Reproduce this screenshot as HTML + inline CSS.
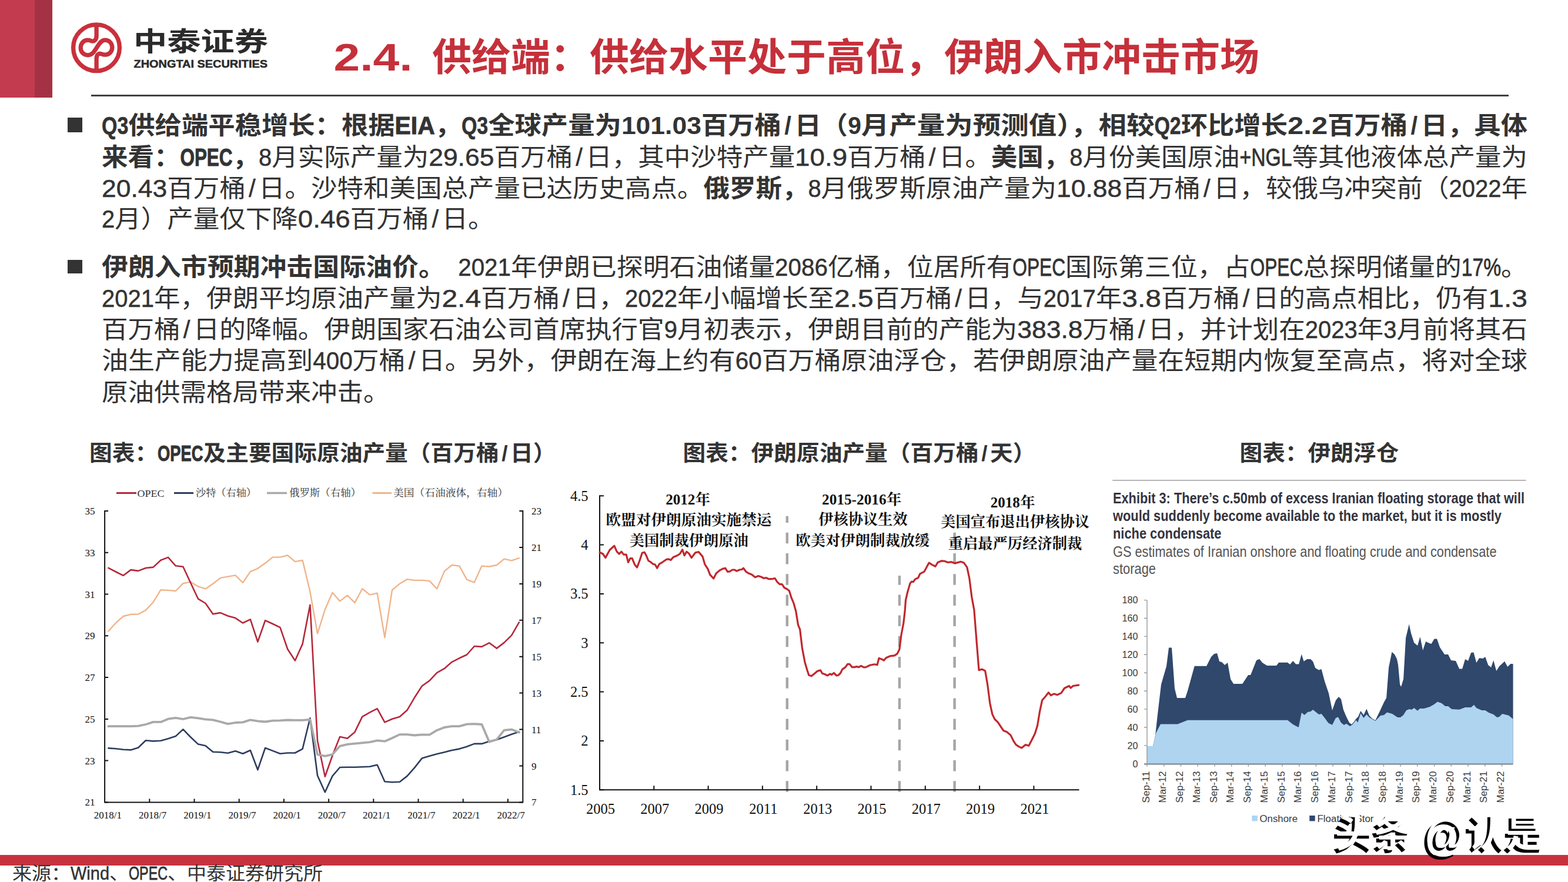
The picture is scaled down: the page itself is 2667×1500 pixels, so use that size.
<!DOCTYPE html>
<html lang="zh-CN"><head><meta charset="utf-8"><title>2.4 供给端</title>
<style>html,body{margin:0;padding:0;background:#fff}body{width:2667px;height:1500px;overflow:hidden;font-family:'Liberation Sans','Noto Sans CJK SC',sans-serif}#page{position:relative;width:2667px;height:1500px;background:#fff;overflow:hidden}#page>svg{position:absolute;left:0;top:0}.band{position:absolute}</style></head><body><div id="page">
<div class="band" style="left:0;top:0;width:60px;height:166px;background:#c23b4e"></div>
<div class="band" style="left:59px;top:0;width:30px;height:166px;background:#a33344"></div>
<div class="band" style="left:155px;top:160.5px;width:2411px;height:3.5px;background:#404040"></div>
<div class="band" style="left:0;top:1454px;width:2667px;height:17.5px;background:#c8323f"></div>
<div class="band" style="left:115px;top:200.3px;width:24.8px;height:24.5px;background:#333"></div>
<div class="band" style="left:115px;top:441.6px;width:25px;height:23.8px;background:#333"></div>
<svg width="2667" height="1500" viewBox="0 0 2667 1500">
<g fill="none" stroke="#c9303c" stroke-width="7.3" stroke-linecap="butt" stroke-linejoin="round">
<circle cx="164" cy="81.2" r="39.4"/>
<path d="M164.1,42 L164.1,61 C164.1,68 160,71 156,69.8 C153,68.8 152,68.1 149.5,68.1 C142,68.1 137.2,74 137.2,81.4 C137.2,89 143,93.8 149.5,93.8 C157,93.8 160.5,87 164.5,81 C168.5,75 172,68.1 178.8,68.1 C186,68.1 190.8,74 190.8,80.7 C190.8,88 185.5,93.1 178.8,93.1 C175,93.1 174,92.2 171.5,91.5 C167.5,90.5 164.1,93 164.1,100 L164.1,121"/>
</g>
<text x="227.0" y="86.5" font-size="45.50" fill="#2b2b2b" font-family="'Liberation Sans','Noto Sans CJK SC',sans-serif" font-weight="bold" textLength="229.0" lengthAdjust="spacingAndGlyphs">中泰证券</text>
<text x="227.5" y="115.0" font-size="18.20" fill="#2b2b2b" font-family="'Liberation Sans',sans-serif" font-weight="bold" textLength="227.5" lengthAdjust="spacingAndGlyphs" stroke="#2b2b2b" stroke-width="0.5">ZHONGTAI SECURITIES</text>
<text y="119.6" font-size="64.79" fill="#c5303a" font-family="'Liberation Sans','Noto Sans CJK SC',sans-serif" font-weight="bold"><tspan x="567.5" textLength="134.0" lengthAdjust="spacingAndGlyphs">2.4.</tspan><tspan x="735.0" textLength="1407.0" lengthAdjust="spacingAndGlyphs">供给端：供给水平处于高位，伊朗入市冲击市场</tspan></text>
<text y="228.1" font-size="42.01" fill="#333" font-family="'Liberation Sans','Noto Sans CJK SC',sans-serif" font-weight="bold"><tspan x="173.0" textLength="45.3" lengthAdjust="spacingAndGlyphs" stroke="#333" stroke-width="0.60">Q3</tspan><tspan x="218.3" textLength="453.3" lengthAdjust="spacingAndGlyphs">供给端平稳增长：根据</tspan><tspan x="671.6" textLength="68.0" lengthAdjust="spacingAndGlyphs" stroke="#333" stroke-width="1.00">EIA</tspan><tspan x="739.6" textLength="45.3" lengthAdjust="spacingAndGlyphs">，</tspan><tspan x="784.9" textLength="45.3" lengthAdjust="spacingAndGlyphs" stroke="#333" stroke-width="0.60">Q3</tspan><tspan x="830.2" textLength="226.6" lengthAdjust="spacingAndGlyphs">全球产量为</tspan><tspan x="1056.9" textLength="136.0" lengthAdjust="spacingAndGlyphs">101.03</tspan><tspan x="1192.9" textLength="136.0" lengthAdjust="spacingAndGlyphs">百万桶</tspan><tspan x="1340.2" text-anchor="middle">/</tspan><tspan x="1351.5" textLength="90.7" lengthAdjust="spacingAndGlyphs">日（</tspan><tspan x="1442.2" textLength="22.7" lengthAdjust="spacingAndGlyphs">9</tspan><tspan x="1464.8" textLength="498.6" lengthAdjust="spacingAndGlyphs">月产量为预测值），相较</tspan><tspan x="1963.4" textLength="45.3" lengthAdjust="spacingAndGlyphs" stroke="#333" stroke-width="0.60">Q2</tspan><tspan x="2008.7" textLength="181.3" lengthAdjust="spacingAndGlyphs">环比增长</tspan><tspan x="2190.1" textLength="68.0" lengthAdjust="spacingAndGlyphs">2.2</tspan><tspan x="2258.0" textLength="136.0" lengthAdjust="spacingAndGlyphs">百万桶</tspan><tspan x="2405.4" text-anchor="middle">/</tspan><tspan x="2416.7" textLength="181.3" lengthAdjust="spacingAndGlyphs">日，具体</tspan></text>
<text y="281.6" font-size="42.01" fill="#333" font-family="'Liberation Sans','Noto Sans CJK SC',sans-serif"><tspan x="173.0" textLength="133.5" lengthAdjust="spacingAndGlyphs" font-weight="bold">来看：</tspan><tspan x="306.5" textLength="89.0" lengthAdjust="spacingAndGlyphs" font-weight="bold" stroke="#333" stroke-width="1.00">OPEC</tspan><tspan x="395.5" textLength="44.5" lengthAdjust="spacingAndGlyphs" font-weight="bold">，</tspan><tspan x="440.0" textLength="22.2" lengthAdjust="spacingAndGlyphs" stroke="#333" stroke-width="0.50">8</tspan><tspan x="462.2" textLength="267.0" lengthAdjust="spacingAndGlyphs">月实际产量为</tspan><tspan x="729.2" textLength="111.2" lengthAdjust="spacingAndGlyphs" stroke="#333" stroke-width="0.50">29.65</tspan><tspan x="840.4" textLength="133.5" lengthAdjust="spacingAndGlyphs">百万桶</tspan><tspan x="985.0" text-anchor="middle" stroke="#333" stroke-width="0.50">/</tspan><tspan x="996.2" textLength="356.0" lengthAdjust="spacingAndGlyphs">日，其中沙特产量</tspan><tspan x="1352.1" textLength="89.0" lengthAdjust="spacingAndGlyphs" stroke="#333" stroke-width="0.50">10.9</tspan><tspan x="1441.1" textLength="133.5" lengthAdjust="spacingAndGlyphs">百万桶</tspan><tspan x="1585.7" text-anchor="middle" stroke="#333" stroke-width="0.50">/</tspan><tspan x="1596.9" textLength="89.0" lengthAdjust="spacingAndGlyphs">日。</tspan><tspan x="1685.8" textLength="133.5" lengthAdjust="spacingAndGlyphs" font-weight="bold">美国，</tspan><tspan x="1819.3" textLength="22.2" lengthAdjust="spacingAndGlyphs" stroke="#333" stroke-width="0.50">8</tspan><tspan x="1841.6" textLength="267.0" lengthAdjust="spacingAndGlyphs">月份美国原油</tspan><tspan x="2108.6" textLength="89.0" lengthAdjust="spacingAndGlyphs" stroke="#333" stroke-width="0.80">+NGL</tspan><tspan x="2197.5" textLength="400.5" lengthAdjust="spacingAndGlyphs">等其他液体总产量为</tspan></text>
<text y="334.5" font-size="42.01" fill="#333" font-family="'Liberation Sans','Noto Sans CJK SC',sans-serif"><tspan x="173.0" textLength="111.2" lengthAdjust="spacingAndGlyphs" stroke="#333" stroke-width="0.50">20.43</tspan><tspan x="284.2" textLength="133.5" lengthAdjust="spacingAndGlyphs">百万桶</tspan><tspan x="428.8" text-anchor="middle" stroke="#333" stroke-width="0.50">/</tspan><tspan x="440.0" textLength="756.4" lengthAdjust="spacingAndGlyphs">日。沙特和美国总产量已达历史高点。</tspan><tspan x="1196.4" textLength="178.0" lengthAdjust="spacingAndGlyphs" font-weight="bold">俄罗斯，</tspan><tspan x="1374.4" textLength="22.2" lengthAdjust="spacingAndGlyphs" stroke="#333" stroke-width="0.50">8</tspan><tspan x="1396.6" textLength="400.5" lengthAdjust="spacingAndGlyphs">月俄罗斯原油产量为</tspan><tspan x="1797.1" textLength="111.2" lengthAdjust="spacingAndGlyphs" stroke="#333" stroke-width="0.50">10.88</tspan><tspan x="1908.3" textLength="133.5" lengthAdjust="spacingAndGlyphs">百万桶</tspan><tspan x="2052.9" text-anchor="middle" stroke="#333" stroke-width="0.50">/</tspan><tspan x="2064.1" textLength="400.5" lengthAdjust="spacingAndGlyphs">日，较俄乌冲突前（</tspan><tspan x="2464.5" textLength="89.0" lengthAdjust="spacingAndGlyphs" stroke="#333" stroke-width="0.50">2022</tspan><tspan x="2553.5" textLength="44.5" lengthAdjust="spacingAndGlyphs">年</tspan></text>
<text y="387.3" font-size="42.01" fill="#333" font-family="'Liberation Sans','Noto Sans CJK SC',sans-serif"><tspan x="173.0" textLength="22.2" lengthAdjust="spacingAndGlyphs" stroke="#333" stroke-width="0.50">2</tspan><tspan x="195.2" textLength="311.5" lengthAdjust="spacingAndGlyphs">月）产量仅下降</tspan><tspan x="506.8" textLength="89.0" lengthAdjust="spacingAndGlyphs" stroke="#333" stroke-width="0.50">0.46</tspan><tspan x="595.8" textLength="133.5" lengthAdjust="spacingAndGlyphs">百万桶</tspan><tspan x="740.4" text-anchor="middle" stroke="#333" stroke-width="0.50">/</tspan><tspan x="751.5" textLength="89.0" lengthAdjust="spacingAndGlyphs">日。</tspan></text>
<text y="468.5" font-size="42.01" fill="#333" font-family="'Liberation Sans','Noto Sans CJK SC',sans-serif"><tspan x="173.0" textLength="583.8" lengthAdjust="spacingAndGlyphs" font-weight="bold">伊朗入市预期冲击国际油价。</tspan><tspan x="779.2" textLength="89.8" lengthAdjust="spacingAndGlyphs" stroke="#333" stroke-width="0.50">2021</tspan><tspan x="869.1" textLength="449.1" lengthAdjust="spacingAndGlyphs">年伊朗已探明石油储量</tspan><tspan x="1318.1" textLength="89.8" lengthAdjust="spacingAndGlyphs" stroke="#333" stroke-width="0.50">2086</tspan><tspan x="1408.0" textLength="314.4" lengthAdjust="spacingAndGlyphs">亿桶，位居所有</tspan><tspan x="1722.3" textLength="89.8" lengthAdjust="spacingAndGlyphs" stroke="#333" stroke-width="0.80">OPEC</tspan><tspan x="1812.1" textLength="314.4" lengthAdjust="spacingAndGlyphs">国际第三位，占</tspan><tspan x="2126.5" textLength="89.8" lengthAdjust="spacingAndGlyphs" stroke="#333" stroke-width="0.80">OPEC</tspan><tspan x="2216.3" textLength="269.4" lengthAdjust="spacingAndGlyphs">总探明储量的</tspan><tspan x="2485.7" textLength="67.4" lengthAdjust="spacingAndGlyphs" stroke="#333" stroke-width="0.80">17%</tspan><tspan x="2553.1" textLength="44.9" lengthAdjust="spacingAndGlyphs">。</tspan></text>
<text y="521.8" font-size="42.01" fill="#333" font-family="'Liberation Sans','Noto Sans CJK SC',sans-serif"><tspan x="173.0" textLength="89.0" lengthAdjust="spacingAndGlyphs" stroke="#333" stroke-width="0.50">2021</tspan><tspan x="262.0" textLength="489.4" lengthAdjust="spacingAndGlyphs">年，伊朗平均原油产量为</tspan><tspan x="751.4" textLength="66.7" lengthAdjust="spacingAndGlyphs" stroke="#333" stroke-width="0.50">2.4</tspan><tspan x="818.2" textLength="133.5" lengthAdjust="spacingAndGlyphs">百万桶</tspan><tspan x="962.8" text-anchor="middle" stroke="#333" stroke-width="0.50">/</tspan><tspan x="973.9" textLength="89.0" lengthAdjust="spacingAndGlyphs">日，</tspan><tspan x="1062.9" textLength="89.0" lengthAdjust="spacingAndGlyphs" stroke="#333" stroke-width="0.50">2022</tspan><tspan x="1151.9" textLength="267.0" lengthAdjust="spacingAndGlyphs">年小幅增长至</tspan><tspan x="1418.9" textLength="66.7" lengthAdjust="spacingAndGlyphs" stroke="#333" stroke-width="0.50">2.5</tspan><tspan x="1485.6" textLength="133.5" lengthAdjust="spacingAndGlyphs">百万桶</tspan><tspan x="1630.2" text-anchor="middle" stroke="#333" stroke-width="0.50">/</tspan><tspan x="1641.3" textLength="133.5" lengthAdjust="spacingAndGlyphs">日，与</tspan><tspan x="1774.8" textLength="89.0" lengthAdjust="spacingAndGlyphs" stroke="#333" stroke-width="0.50">2017</tspan><tspan x="1863.8" textLength="44.5" lengthAdjust="spacingAndGlyphs">年</tspan><tspan x="1908.3" textLength="66.7" lengthAdjust="spacingAndGlyphs" stroke="#333" stroke-width="0.50">3.8</tspan><tspan x="1975.1" textLength="133.5" lengthAdjust="spacingAndGlyphs">百万桶</tspan><tspan x="2119.7" text-anchor="middle" stroke="#333" stroke-width="0.50">/</tspan><tspan x="2130.8" textLength="400.5" lengthAdjust="spacingAndGlyphs">日的高点相比，仍有</tspan><tspan x="2531.3" textLength="66.7" lengthAdjust="spacingAndGlyphs" stroke="#333" stroke-width="0.50">1.3</tspan></text>
<text y="575.0" font-size="42.01" fill="#333" font-family="'Liberation Sans','Noto Sans CJK SC',sans-serif"><tspan x="173.0" textLength="133.5" lengthAdjust="spacingAndGlyphs">百万桶</tspan><tspan x="317.6" text-anchor="middle" stroke="#333" stroke-width="0.50">/</tspan><tspan x="328.7" textLength="800.9" lengthAdjust="spacingAndGlyphs">日的降幅。伊朗国家石油公司首席执行官</tspan><tspan x="1129.7" textLength="22.2" lengthAdjust="spacingAndGlyphs" stroke="#333" stroke-width="0.50">9</tspan><tspan x="1151.9" textLength="578.4" lengthAdjust="spacingAndGlyphs">月初表示，伊朗目前的产能为</tspan><tspan x="1730.3" textLength="111.2" lengthAdjust="spacingAndGlyphs" stroke="#333" stroke-width="0.50">383.8</tspan><tspan x="1841.6" textLength="89.0" lengthAdjust="spacingAndGlyphs">万桶</tspan><tspan x="1941.7" text-anchor="middle" stroke="#333" stroke-width="0.50">/</tspan><tspan x="1952.8" textLength="267.0" lengthAdjust="spacingAndGlyphs">日，并计划在</tspan><tspan x="2219.8" textLength="89.0" lengthAdjust="spacingAndGlyphs" stroke="#333" stroke-width="0.50">2023</tspan><tspan x="2308.8" textLength="44.5" lengthAdjust="spacingAndGlyphs">年</tspan><tspan x="2353.3" textLength="22.2" lengthAdjust="spacingAndGlyphs" stroke="#333" stroke-width="0.50">3</tspan><tspan x="2375.5" textLength="222.5" lengthAdjust="spacingAndGlyphs">月前将其石</tspan></text>
<text y="628.4" font-size="42.01" fill="#333" font-family="'Liberation Sans','Noto Sans CJK SC',sans-serif"><tspan x="173.0" textLength="359.3" lengthAdjust="spacingAndGlyphs">油生产能力提高到</tspan><tspan x="532.3" textLength="67.4" lengthAdjust="spacingAndGlyphs" stroke="#333" stroke-width="0.50">400</tspan><tspan x="599.6" textLength="89.8" lengthAdjust="spacingAndGlyphs">万桶</tspan><tspan x="700.7" text-anchor="middle" stroke="#333" stroke-width="0.50">/</tspan><tspan x="711.9" textLength="538.9" lengthAdjust="spacingAndGlyphs">日。另外，伊朗在海上约有</tspan><tspan x="1250.8" textLength="44.9" lengthAdjust="spacingAndGlyphs" stroke="#333" stroke-width="0.50">60</tspan><tspan x="1295.7" textLength="1302.3" lengthAdjust="spacingAndGlyphs">百万桶原油浮仓，若伊朗原油产量在短期内恢复至高点，将对全球</tspan></text>
<text y="681.6" font-size="42.01" fill="#333" font-family="'Liberation Sans','Noto Sans CJK SC',sans-serif"><tspan x="173.0" textLength="489.5" lengthAdjust="spacingAndGlyphs">原油供需格局带来冲击。</tspan></text>
<text y="783.5" font-size="37.15" fill="#333" font-family="'Liberation Sans','Noto Sans CJK SC',sans-serif" font-weight="bold"><tspan x="152.0" textLength="116.1" lengthAdjust="spacingAndGlyphs">图表：</tspan><tspan x="268.1" textLength="77.4" lengthAdjust="spacingAndGlyphs" stroke="#333" stroke-width="1.00">OPEC</tspan><tspan x="345.5" textLength="503.1" lengthAdjust="spacingAndGlyphs">及主要国际原油产量（百万桶</tspan><tspan x="858.3" text-anchor="middle">/</tspan><tspan x="868.0" textLength="77.4" lengthAdjust="spacingAndGlyphs">日）</tspan></text>
<text y="783.5" font-size="37.15" fill="#333" font-family="'Liberation Sans','Noto Sans CJK SC',sans-serif" font-weight="bold"><tspan x="1161.5" textLength="503.1" lengthAdjust="spacingAndGlyphs">图表：伊朗原油产量（百万桶</tspan><tspan x="1674.3" text-anchor="middle">/</tspan><tspan x="1684.0" textLength="77.4" lengthAdjust="spacingAndGlyphs">天）</tspan></text>
<text y="783.5" font-size="37.15" fill="#333" font-family="'Liberation Sans','Noto Sans CJK SC',sans-serif" font-weight="bold"><tspan x="2108.5" textLength="270.9" lengthAdjust="spacingAndGlyphs">图表：伊朗浮仓</tspan></text>
<text y="1496.0" font-size="31.15" fill="#333" font-family="'Liberation Sans','Noto Sans CJK SC',sans-serif"><tspan x="21.0" textLength="99.0" lengthAdjust="spacingAndGlyphs">来源：</tspan><tspan x="120.0" textLength="66.0" lengthAdjust="spacingAndGlyphs" stroke="#333" stroke-width="0.50">Wind</tspan><tspan x="186.0" textLength="33.0" lengthAdjust="spacingAndGlyphs">、</tspan><tspan x="219.0" textLength="66.0" lengthAdjust="spacingAndGlyphs" stroke="#333" stroke-width="0.80">OPEC</tspan><tspan x="285.0" textLength="264.0" lengthAdjust="spacingAndGlyphs">、中泰证券研究所</tspan></text>
<g id="chart1">
<polyline points="184.4,1073.5 197.1,1059.2 209.8,1048.0 222.5,1044.8 235.2,1044.5 247.9,1037.6 260.6,1024.2 273.4,1003.2 286.0,1003.9 298.8,1005.0 311.4,992.2 324.1,989.6 336.9,997.3 349.5,1001.4 362.2,992.8 374.9,982.9 387.6,980.6 400.4,978.4 413.0,991.0 425.8,972.1 438.4,966.8 451.1,957.8 463.9,947.6 476.5,947.6 489.2,944.3 501.9,955.1 514.6,952.9 527.4,1006.2 540.0,1077.5 552.8,1036.7 565.4,1007.7 578.1,1022.4 590.9,1012.5 603.5,1025.1 616.2,1001.2 628.9,1011.6 641.6,1008.6 654.4,1084.3 667.0,1003.5 679.8,992.8 692.5,985.1 705.1,986.9 717.9,986.9 730.5,987.9 743.2,1001.4 756.0,971.3 768.6,961.0 781.4,962.6 794.0,985.6 806.8,990.6 819.4,962.6 832.1,963.5 844.9,961.0 857.5,950.6 870.2,953.3 882.9,949.2" fill="none" stroke="#f0b48a" stroke-width="2.4" stroke-linejoin="round" stroke-linecap="round"/>
<polyline points="184.4,965.9 197.1,972.5 209.8,978.8 222.5,969.1 235.2,970.9 247.9,966.0 260.6,964.6 273.4,952.8 286.0,947.9 298.8,962.3 311.4,963.7 324.1,991.0 336.9,1018.3 349.5,1026.0 362.2,1044.3 374.9,1042.1 387.6,1047.5 400.4,1051.1 413.0,1059.5 425.8,1053.4 438.4,1091.5 451.1,1055.2 463.9,1061.0 476.5,1067.2 489.2,1104.0 501.9,1123.5 514.6,1095.1 527.4,1028.7 540.0,1259.8 552.8,1320.8 565.4,1285.0 578.1,1253.0 590.9,1255.7 603.5,1244.9 616.2,1218.9 628.9,1211.7 641.6,1205.1 654.4,1228.4 667.0,1222.7 679.8,1218.9 692.5,1207.8 705.1,1186.3 717.9,1166.5 730.5,1157.6 743.2,1144.1 756.0,1136.9 768.6,1125.8 781.4,1119.3 794.0,1113.5 806.8,1099.0 819.4,1099.9 832.1,1093.3 844.9,1102.6 857.5,1092.9 870.2,1080.3 882.9,1058.3" fill="none" stroke="#b5283a" stroke-width="2.6" stroke-linejoin="round" stroke-linecap="round"/>
<polyline points="184.4,1272.4 197.1,1273.3 209.8,1274.7 222.5,1275.4 235.2,1271.5 247.9,1259.3 260.6,1260.4 273.4,1259.8 286.0,1256.2 298.8,1252.1 311.4,1240.4 324.1,1253.5 336.9,1265.6 349.5,1268.3 362.2,1278.7 374.9,1279.2 387.6,1280.8 400.4,1277.2 413.0,1281.7 425.8,1276.0 438.4,1309.2 451.1,1272.0 463.9,1276.9 476.5,1281.7 489.2,1280.5 501.9,1280.5 514.6,1273.6 527.4,1221.3 540.0,1319.0 552.8,1347.2 565.4,1319.9 578.1,1305.0 590.9,1304.7 603.5,1304.7 616.2,1304.2 628.9,1303.8 641.6,1300.7 654.4,1329.3 667.0,1330.3 679.8,1329.8 692.5,1319.9 705.1,1305.6 717.9,1289.4 730.5,1285.8 743.2,1282.3 756.0,1279.2 768.6,1276.0 781.4,1273.6 794.0,1269.7 806.8,1264.9 819.4,1264.9 832.1,1260.7 844.9,1258.0 857.5,1253.5 870.2,1248.7 882.9,1244.6" fill="none" stroke="#2d3d5f" stroke-width="2.6" stroke-linejoin="round" stroke-linecap="round"/>
<polyline points="184.4,1235.2 197.1,1235.2 209.8,1235.2 222.5,1235.2 235.2,1234.7 247.9,1232.0 260.6,1227.9 273.4,1227.9 286.0,1222.7 298.8,1220.9 311.4,1223.0 324.1,1219.8 336.9,1221.3 349.5,1223.4 362.2,1224.3 374.9,1227.5 387.6,1231.1 400.4,1229.0 413.0,1228.4 425.8,1224.3 438.4,1226.3 451.1,1227.5 463.9,1225.7 476.5,1225.4 489.2,1224.5 501.9,1224.8 514.6,1224.8 527.4,1223.6 540.0,1283.2 552.8,1285.8 565.4,1283.2 578.1,1268.8 590.9,1265.8 603.5,1264.7 616.2,1263.4 628.9,1262.2 641.6,1259.3 654.4,1260.7 667.0,1255.3 679.8,1249.1 692.5,1249.1 705.1,1250.5 717.9,1249.4 730.5,1249.6 743.2,1241.9 756.0,1237.0 768.6,1235.2 781.4,1235.1 794.0,1231.7 806.8,1231.1 819.4,1232.0 832.1,1261.6 844.9,1257.7 857.5,1241.9 870.2,1240.6 882.9,1245.5" fill="none" stroke="#a9a9a9" stroke-width="3.8" stroke-linejoin="round" stroke-linecap="round"/>
<g stroke="#111" stroke-width="2" fill="none">
<path d="M178.1,868.0 V1364.4 H889.3 V868.0"/>
<path d="M178.1,869.0 h6 M178.1,939.8 h6 M178.1,1010.5 h6 M178.1,1081.3 h6 M178.1,1152.1 h6 M178.1,1222.9 h6 M178.1,1293.6 h6 M178.1,1364.4 h6 M889.3,869.0 h-6 M889.3,930.9 h-6 M889.3,992.9 h-6 M889.3,1054.8 h-6 M889.3,1116.7 h-6 M889.3,1178.6 h-6 M889.3,1240.6 h-6 M889.3,1302.5 h-6 M889.3,1364.4 h-6 M254.3,1364.4 v-6 M330.5,1364.4 v-6 M406.7,1364.4 v-6 M482.9,1364.4 v-6 M559.1,1364.4 v-6 M635.3,1364.4 v-6 M711.5,1364.4 v-6 M787.7,1364.4 v-6 M863.9,1364.4 v-6"/>
</g>
<text x="161.5" y="875.0" font-size="17.00" fill="#111" font-family="'Liberation Serif',serif" text-anchor="end">35</text>
<text x="161.5" y="945.8" font-size="17.00" fill="#111" font-family="'Liberation Serif',serif" text-anchor="end">33</text>
<text x="161.5" y="1016.5" font-size="17.00" fill="#111" font-family="'Liberation Serif',serif" text-anchor="end">31</text>
<text x="161.5" y="1087.3" font-size="17.00" fill="#111" font-family="'Liberation Serif',serif" text-anchor="end">29</text>
<text x="161.5" y="1158.1" font-size="17.00" fill="#111" font-family="'Liberation Serif',serif" text-anchor="end">27</text>
<text x="161.5" y="1228.9" font-size="17.00" fill="#111" font-family="'Liberation Serif',serif" text-anchor="end">25</text>
<text x="161.5" y="1299.6" font-size="17.00" fill="#111" font-family="'Liberation Serif',serif" text-anchor="end">23</text>
<text x="161.5" y="1370.4" font-size="17.00" fill="#111" font-family="'Liberation Serif',serif" text-anchor="end">21</text>
<text x="904.0" y="875.0" font-size="17.00" fill="#111" font-family="'Liberation Serif',serif">23</text>
<text x="904.0" y="936.9" font-size="17.00" fill="#111" font-family="'Liberation Serif',serif">21</text>
<text x="904.0" y="998.9" font-size="17.00" fill="#111" font-family="'Liberation Serif',serif">19</text>
<text x="904.0" y="1060.8" font-size="17.00" fill="#111" font-family="'Liberation Serif',serif">17</text>
<text x="904.0" y="1122.7" font-size="17.00" fill="#111" font-family="'Liberation Serif',serif">15</text>
<text x="904.0" y="1184.6" font-size="17.00" fill="#111" font-family="'Liberation Serif',serif">13</text>
<text x="904.0" y="1246.6" font-size="17.00" fill="#111" font-family="'Liberation Serif',serif">11</text>
<text x="904.0" y="1308.5" font-size="17.00" fill="#111" font-family="'Liberation Serif',serif">9</text>
<text x="904.0" y="1370.4" font-size="17.00" fill="#111" font-family="'Liberation Serif',serif">7</text>
<text x="183.4" y="1392.0" font-size="17.00" fill="#111" font-family="'Liberation Serif',serif" text-anchor="middle">2018/1</text>
<text x="259.6" y="1392.0" font-size="17.00" fill="#111" font-family="'Liberation Serif',serif" text-anchor="middle">2018/7</text>
<text x="335.9" y="1392.0" font-size="17.00" fill="#111" font-family="'Liberation Serif',serif" text-anchor="middle">2019/1</text>
<text x="412.0" y="1392.0" font-size="17.00" fill="#111" font-family="'Liberation Serif',serif" text-anchor="middle">2019/7</text>
<text x="488.2" y="1392.0" font-size="17.00" fill="#111" font-family="'Liberation Serif',serif" text-anchor="middle">2020/1</text>
<text x="564.4" y="1392.0" font-size="17.00" fill="#111" font-family="'Liberation Serif',serif" text-anchor="middle">2020/7</text>
<text x="640.6" y="1392.0" font-size="17.00" fill="#111" font-family="'Liberation Serif',serif" text-anchor="middle">2021/1</text>
<text x="716.9" y="1392.0" font-size="17.00" fill="#111" font-family="'Liberation Serif',serif" text-anchor="middle">2021/7</text>
<text x="793.0" y="1392.0" font-size="17.00" fill="#111" font-family="'Liberation Serif',serif" text-anchor="middle">2022/1</text>
<text x="869.2" y="1392.0" font-size="17.00" fill="#111" font-family="'Liberation Serif',serif" text-anchor="middle">2022/7</text>
<g stroke-width="3" fill="none"><path d="M198,838.5 H232" stroke="#b5283a"/><path d="M296,838.5 H329" stroke="#2d3d5f"/><path d="M454,838.5 H488" stroke="#a9a9a9" stroke-width="3.6"/><path d="M633.5,838.5 H666" stroke="#f0b48a"/></g>
<text x="233.5" y="844.5" font-size="17.50" fill="#333" font-family="'Liberation Serif',serif" textLength="46.0" lengthAdjust="spacingAndGlyphs">OPEC</text>
<text x="333.0" y="844.0" font-size="17.00" fill="#333" font-family="'Liberation Serif','Noto Serif CJK SC',serif" textLength="103.0" lengthAdjust="spacingAndGlyphs">沙特（右轴）</text>
<text x="492.0" y="844.0" font-size="17.00" fill="#333" font-family="'Liberation Serif','Noto Serif CJK SC',serif" textLength="122.0" lengthAdjust="spacingAndGlyphs">俄罗斯（右轴）</text>
<text x="669.0" y="844.0" font-size="17.00" fill="#333" font-family="'Liberation Serif','Noto Serif CJK SC',serif" textLength="195.0" lengthAdjust="spacingAndGlyphs">美国（石油液体，右轴）</text>
</g>
<g id="chart2">
<g stroke="#a6a6a6" stroke-width="4.4" fill="none" stroke-dasharray="18.5 16.7">
<path d="M1338.8,1346.7 V877.8"/>
<path d="M1529.9,1346.7 V979"/>
<path d="M1623.6,1346.7 V905"/>
</g>
<g stroke="#111" stroke-width="2" fill="none">
<path d="M1020.0,842.2 V1343.3 H1835.5"/>
<path d="M1020.0,843.2 h7 M1020.0,926.6 h7 M1020.0,1009.9 h7 M1020.0,1093.2 h7 M1020.0,1176.6 h7 M1020.0,1260.0 h7 M1020.0,1343.3 h7 M1112.3,1343.3 v-7 M1204.6,1343.3 v-7 M1296.9,1343.3 v-7 M1389.2,1343.3 v-7 M1481.5,1343.3 v-7 M1573.8,1343.3 v-7 M1666.1,1343.3 v-7 M1758.4,1343.3 v-7"/>
</g>
<text x="1000.5" y="851.5" font-size="24.50" fill="#111" font-family="'Liberation Serif',serif" text-anchor="end">4.5</text>
<text x="1000.5" y="934.9" font-size="24.50" fill="#111" font-family="'Liberation Serif',serif" text-anchor="end">4</text>
<text x="1000.5" y="1018.2" font-size="24.50" fill="#111" font-family="'Liberation Serif',serif" text-anchor="end">3.5</text>
<text x="1000.5" y="1101.5" font-size="24.50" fill="#111" font-family="'Liberation Serif',serif" text-anchor="end">3</text>
<text x="1000.5" y="1184.9" font-size="24.50" fill="#111" font-family="'Liberation Serif',serif" text-anchor="end">2.5</text>
<text x="1000.5" y="1268.2" font-size="24.50" fill="#111" font-family="'Liberation Serif',serif" text-anchor="end">2</text>
<text x="1000.5" y="1351.6" font-size="24.50" fill="#111" font-family="'Liberation Serif',serif" text-anchor="end">1.5</text>
<text x="1021.5" y="1383.5" font-size="24.50" fill="#111" font-family="'Liberation Serif',serif" text-anchor="middle">2005</text>
<text x="1113.8" y="1383.5" font-size="24.50" fill="#111" font-family="'Liberation Serif',serif" text-anchor="middle">2007</text>
<text x="1206.1" y="1383.5" font-size="24.50" fill="#111" font-family="'Liberation Serif',serif" text-anchor="middle">2009</text>
<text x="1298.4" y="1383.5" font-size="24.50" fill="#111" font-family="'Liberation Serif',serif" text-anchor="middle">2011</text>
<text x="1390.7" y="1383.5" font-size="24.50" fill="#111" font-family="'Liberation Serif',serif" text-anchor="middle">2013</text>
<text x="1483.0" y="1383.5" font-size="24.50" fill="#111" font-family="'Liberation Serif',serif" text-anchor="middle">2015</text>
<text x="1575.3" y="1383.5" font-size="24.50" fill="#111" font-family="'Liberation Serif',serif" text-anchor="middle">2017</text>
<text x="1667.6" y="1383.5" font-size="24.50" fill="#111" font-family="'Liberation Serif',serif" text-anchor="middle">2019</text>
<text x="1759.9" y="1383.5" font-size="24.50" fill="#111" font-family="'Liberation Serif',serif" text-anchor="middle">2021</text>
<polyline points="1020.0,939.2 1025.5,942.0 1029.9,948.6 1037.1,935.3 1044.8,928.2 1049.2,938.1 1053.1,942.0 1057.0,938.1 1060.8,943.1 1065.2,943.1 1068.5,956.3 1071.9,949.7 1075.2,949.7 1079.6,960.2 1083.5,965.1 1087.3,955.2 1092.3,940.3 1096.2,939.2 1099.5,945.3 1102.8,953.5 1106.6,955.8 1110.5,959.1 1114.4,960.2 1117.7,966.2 1121.5,959.1 1126.5,956.3 1133.7,951.3 1137.0,950.8 1140.9,952.4 1145.3,947.5 1150.8,945.3 1156.3,942.0 1160.7,934.8 1164.1,944.7 1167.9,938.1 1171.8,941.4 1176.2,948.6 1182.8,939.7 1188.3,938.6 1195.0,946.4 1198.8,959.6 1203.8,967.4 1207.7,977.3 1213.7,983.9 1218.2,975.1 1224.8,969.6 1229.2,967.4 1233.6,966.2 1237.5,972.3 1241.3,971.8 1245.8,969.0 1249.1,969.0 1252.9,971.2 1257.9,969.0 1261.8,968.5 1264.5,966.2 1268.9,972.3 1273.4,975.1 1278.9,977.3 1284.4,981.7 1289.9,979.5 1295.0,981.2 1299.1,983.5 1302.9,982.5 1307.5,984.7 1312.8,984.7 1318.1,983.5 1321.9,989.6 1326.4,993.7 1330.2,993.7 1334.0,999.5 1338.6,1001.8 1342.4,1004.8 1346.2,1016.9 1350.0,1026.0 1353.8,1039.7 1357.6,1063.2 1360.6,1070.1 1364.4,1102.0 1369.0,1126.3 1372.8,1139.2 1375.8,1148.3 1380.3,1149.8 1385.7,1145.2 1390.2,1141.4 1395.5,1139.9 1398.6,1145.2 1403.1,1146.8 1407.7,1149.0 1411.5,1146.0 1414.5,1147.5 1418.3,1144.5 1422.9,1149.0 1425.9,1148.3 1429.7,1144.5 1432.7,1138.4 1438.0,1134.6 1441.8,1129.3 1444.9,1129.3 1449.4,1134.6 1453.2,1134.6 1457.0,1133.6 1460.8,1134.6 1464.6,1132.3 1469.2,1134.9 1473.0,1134.6 1479.8,1131.3 1487.4,1129.8 1492.0,1130.8 1495.0,1119.4 1499.5,1120.9 1503.3,1123.2 1507.1,1118.7 1514.7,1115.6 1521.5,1114.9 1526.1,1111.8 1529.9,1104.2 1532.9,1080.0 1536.7,1060.2 1539.0,1040.5 1540.5,1020.7 1543.6,1007.1 1548.1,991.9 1550.4,989.2 1553.4,989.6 1556.5,985.1 1561.8,982.5 1564.8,975.9 1572.1,972.1 1580.2,957.1 1585.6,960.6 1591.0,963.3 1595.0,956.5 1601.7,953.8 1607.1,954.4 1612.5,956.5 1617.9,955.7 1624.6,957.9 1634.0,955.2 1639.4,957.1 1644.8,964.6 1648.8,983.4 1652.9,1015.7 1656.9,1037.3 1660.9,1088.4 1665.0,1139.6 1670.4,1138.2 1675.7,1140.9 1679.8,1165.1 1683.8,1196.1 1687.9,1214.9 1691.9,1223.0 1697.3,1228.4 1702.7,1236.5 1706.7,1242.4 1712.1,1244.5 1718.8,1249.9 1724.2,1260.7 1728.2,1266.6 1733.6,1270.1 1737.7,1272.0 1744.4,1266.6 1749.8,1268.2 1755.2,1258.0 1760.5,1247.2 1764.6,1233.8 1768.6,1209.6 1772.7,1190.7 1778.0,1184.8 1783.4,1177.8 1787.5,1182.6 1792.9,1179.9 1798.2,1181.8 1805.0,1178.6 1810.4,1170.5 1818.4,1166.5 1821.1,1170.0 1825.2,1166.5 1834.6,1165.1" fill="none" stroke="#c1272d" stroke-width="3.2" stroke-linejoin="round" stroke-linecap="round"/>
<text x="1132.2" y="857.9" font-size="24.5" fill="#111" font-family="'Liberation Serif',serif" font-weight="bold" textLength="50.1" lengthAdjust="spacingAndGlyphs">2012</text>
<text x="1182.8" y="857.9" font-size="25.20" fill="#111" font-family="'Liberation Serif','Noto Serif CJK SC',serif" font-weight="bold" textLength="25.4" lengthAdjust="spacingAndGlyphs">年</text>
<text x="1030.5" y="892.5" font-size="25.20" fill="#111" font-family="'Liberation Serif','Noto Serif CJK SC',serif" font-weight="bold" textLength="282.0" lengthAdjust="spacingAndGlyphs">欧盟对伊朗原油实施禁运</text>
<text x="1070.8" y="928.4" font-size="25.20" fill="#111" font-family="'Liberation Serif','Noto Serif CJK SC',serif" font-weight="bold" textLength="202.0" lengthAdjust="spacingAndGlyphs">美国制裁伊朗原油</text>
<text x="1398.0" y="858.3" font-size="24.5" fill="#111" font-family="'Liberation Serif',serif" font-weight="bold" textLength="109.6" lengthAdjust="spacingAndGlyphs">2015-2016</text>
<text x="1508.1" y="858.3" font-size="25.20" fill="#111" font-family="'Liberation Serif','Noto Serif CJK SC',serif" font-weight="bold" textLength="25.4" lengthAdjust="spacingAndGlyphs">年</text>
<text x="1392.2" y="891.8" font-size="25.20" fill="#111" font-family="'Liberation Serif','Noto Serif CJK SC',serif" font-weight="bold" textLength="151.5" lengthAdjust="spacingAndGlyphs">伊核协议生效</text>
<text x="1353.4" y="928.3" font-size="25.20" fill="#111" font-family="'Liberation Serif','Noto Serif CJK SC',serif" font-weight="bold" textLength="228.0" lengthAdjust="spacingAndGlyphs">欧美对伊朗制裁放缓</text>
<text x="1684.8" y="862.6" font-size="24.5" fill="#111" font-family="'Liberation Serif',serif" font-weight="bold" textLength="50.1" lengthAdjust="spacingAndGlyphs">2018</text>
<text x="1735.3" y="862.6" font-size="25.20" fill="#111" font-family="'Liberation Serif','Noto Serif CJK SC',serif" font-weight="bold" textLength="25.4" lengthAdjust="spacingAndGlyphs">年</text>
<text x="1600.1" y="896.2" font-size="25.20" fill="#111" font-family="'Liberation Serif','Noto Serif CJK SC',serif" font-weight="bold" textLength="253.0" lengthAdjust="spacingAndGlyphs">美国宣布退出伊核协议</text>
<text x="1612.8" y="932.5" font-size="25.20" fill="#111" font-family="'Liberation Serif','Noto Serif CJK SC',serif" font-weight="bold" textLength="227.5" lengthAdjust="spacingAndGlyphs">重启最严厉经济制裁</text>
</g>
<g id="chart3">
<path d="M1892.3,816.8 H2595.6" stroke="#8a8a8a" stroke-width="1.2" fill="none"/>
<text x="1893.0" y="855.5" font-size="25.00" fill="#34353f" font-family="'Liberation Sans',sans-serif" font-weight="bold" textLength="700.0" lengthAdjust="spacingAndGlyphs">Exhibit 3: There’s c.50mb of excess Iranian floating storage that will</text>
<text x="1893.0" y="886.2" font-size="25.00" fill="#34353f" font-family="'Liberation Sans',sans-serif" font-weight="bold" textLength="661.0" lengthAdjust="spacingAndGlyphs">would suddenly become available to the market, but it is mostly</text>
<text x="1893.0" y="915.9" font-size="25.00" fill="#34353f" font-family="'Liberation Sans',sans-serif" font-weight="bold" textLength="184.5" lengthAdjust="spacingAndGlyphs">niche condensate</text>
<text x="1893.0" y="946.8" font-size="25.00" fill="#555" font-family="'Liberation Sans',sans-serif" textLength="652.5" lengthAdjust="spacingAndGlyphs">GS estimates of Iranian onshore and floating crude and condensate</text>
<text x="1893.0" y="975.6" font-size="25.00" fill="#555" font-family="'Liberation Sans',sans-serif" textLength="73.0" lengthAdjust="spacingAndGlyphs">storage</text>
<path d="M1961.0,1298.8 L1961.0,1268.8 L1965.0,1251.1 L1969.0,1215.1 L1975.0,1164.1 L1984.0,1133.1 L1988.0,1101.5 L1993.0,1101.5 L1996.0,1143.1 L1998.0,1171.1 L2002.0,1187.1 L2016.0,1187.1 L2020.0,1175.1 L2031.7,1132.7 L2052.1,1132.7 L2060.1,1117.1 L2065.1,1112.1 L2070.1,1111.1 L2074.1,1125.1 L2078.1,1126.1 L2083.1,1131.1 L2088.1,1127.1 L2093.1,1155.1 L2098.1,1163.1 L2113.1,1163.1 L2123.1,1148.1 L2127.1,1148.1 L2137.1,1123.1 L2142.1,1120.7 L2147.1,1127.1 L2155.1,1132.1 L2171.1,1132.1 L2175.1,1126.7 L2190.1,1126.7 L2194.1,1130.1 L2199.2,1124.1 L2204.2,1129.5 L2209.2,1129.5 L2213.8,1112.5 L2217.6,1124.7 L2223.2,1121.1 L2229.2,1121.1 L2233.2,1125.1 L2237.2,1136.1 L2243.2,1139.5 L2247.6,1138.1 L2253.2,1159.1 L2260.0,1179.1 L2266.0,1208.1 L2272.0,1191.1 L2277.0,1185.1 L2281.0,1189.1 L2285.0,1207.1 L2290.0,1219.1 L2295.0,1229.1 L2299.0,1232.1 L2303.0,1227.5 L2306.0,1223.1 L2310.0,1219.1 L2314.4,1209.1 L2319.4,1216.1 L2324.4,1205.5 L2329.0,1217.1 L2334.0,1222.1 L2339.4,1225.1 L2348.1,1207.1 L2354.1,1194.1 L2358.1,1187.1 L2362.1,1135.1 L2367.5,1108.7 L2372.1,1113.1 L2376.1,1121.1 L2378.1,1131.1 L2381.1,1164.1 L2383.1,1168.1 L2387.1,1155.1 L2391.1,1085.0 L2396.7,1061.4 L2400.1,1077.0 L2405.1,1093.0 L2411.1,1098.0 L2415.5,1083.0 L2420.1,1106.1 L2425.1,1091.0 L2430.1,1093.4 L2434.5,1095.0 L2439.5,1086.6 L2444.1,1086.6 L2449.1,1101.1 L2457.1,1113.1 L2463.1,1113.1 L2468.1,1123.1 L2476.1,1124.1 L2482.1,1137.5 L2487.1,1137.5 L2492.1,1121.1 L2497.1,1124.1 L2502.1,1110.1 L2506.5,1109.5 L2511.2,1127.1 L2516.2,1119.1 L2522.2,1120.1 L2526.2,1117.1 L2531.2,1131.1 L2536.2,1135.1 L2540.2,1123.1 L2545.2,1141.1 L2550.2,1133.1 L2559.2,1124.7 L2564.2,1134.1 L2569.2,1129.1 L2573.6,1129.1 L2573.6,1298.8 Z" fill="#2f486c"/>
<path d="M1951.0,1298.8 L1951.0,1268.8 L1961.0,1268.8 L1966.0,1247.1 L1974.0,1231.5 L2003.0,1231.5 L2020.0,1224.7 L2190.1,1224.7 L2199.2,1232.1 L2208.8,1237.1 L2213.8,1212.1 L2218.8,1216.1 L2224.2,1211.1 L2229.2,1210.1 L2233.2,1207.1 L2238.2,1211.1 L2243.2,1215.1 L2247.6,1214.1 L2253.2,1221.1 L2258.2,1228.1 L2260.0,1230.1 L2266.0,1232.7 L2272.0,1221.1 L2276.0,1219.5 L2281.0,1229.1 L2286.0,1233.1 L2290.0,1230.7 L2296.0,1235.1 L2300.0,1232.7 L2306.4,1224.7 L2309.4,1228.7 L2314.4,1213.1 L2319.4,1221.1 L2324.4,1215.1 L2329.0,1220.1 L2334.0,1223.1 L2339.4,1226.1 L2348.1,1217.1 L2354.1,1216.1 L2359.1,1211.5 L2368.1,1214.1 L2377.1,1220.1 L2382.1,1220.1 L2387.1,1216.1 L2392.1,1208.1 L2397.1,1206.1 L2401.1,1207.1 L2405.1,1204.1 L2411.1,1208.7 L2415.1,1205.1 L2422.1,1205.1 L2432.1,1202.1 L2439.1,1198.1 L2445.1,1193.5 L2452.1,1196.1 L2458.1,1201.1 L2463.1,1201.1 L2469.1,1206.1 L2482.1,1206.7 L2492.1,1203.1 L2502.1,1203.1 L2507.1,1198.7 L2511.2,1204.1 L2520.2,1208.1 L2526.2,1208.1 L2532.2,1212.1 L2540.2,1215.1 L2546.2,1220.1 L2550.2,1219.1 L2555.2,1214.1 L2566.2,1216.7 L2573.6,1223.1 L2573.6,1298.8 Z" fill="#aed4f0"/>
<g stroke="#9a9a9a" stroke-width="1.4" fill="none">
<path d="M1946.0,1299.4 H2573.6" stroke="#8f979c" stroke-width="2.6"/>
<path d="M1951.0,1021 V1298.8 M1951.0,1020.6 h-5 M1951.0,1051.5 h-5 M1951.0,1082.4 h-5 M1951.0,1113.3 h-5 M1951.0,1144.2 h-5 M1951.0,1175.2 h-5 M1951.0,1206.1 h-5 M1951.0,1237.0 h-5 M1951.0,1267.9 h-5 M1951.0,1298.8 h-5 M1951.0,1298.8 v5 M1979.7,1298.8 v5 M2008.5,1298.8 v5 M2037.2,1298.8 v5 M2066.0,1298.8 v5 M2094.7,1298.8 v5 M2123.4,1298.8 v5 M2152.2,1298.8 v5 M2180.9,1298.8 v5 M2209.7,1298.8 v5 M2238.4,1298.8 v5 M2267.1,1298.8 v5 M2295.9,1298.8 v5 M2324.6,1298.8 v5 M2353.4,1298.8 v5 M2382.1,1298.8 v5 M2410.8,1298.8 v5 M2439.6,1298.8 v5 M2468.3,1298.8 v5 M2497.1,1298.8 v5 M2525.8,1298.8 v5 M2554.5,1298.8 v5"/>
</g>
<text x="1935.5" y="1026.4" font-size="16.20" fill="#3a3a3a" font-family="'Liberation Sans',sans-serif" text-anchor="end">180</text>
<text x="1935.5" y="1057.3" font-size="16.20" fill="#3a3a3a" font-family="'Liberation Sans',sans-serif" text-anchor="end">160</text>
<text x="1935.5" y="1088.2" font-size="16.20" fill="#3a3a3a" font-family="'Liberation Sans',sans-serif" text-anchor="end">140</text>
<text x="1935.5" y="1119.1" font-size="16.20" fill="#3a3a3a" font-family="'Liberation Sans',sans-serif" text-anchor="end">120</text>
<text x="1935.5" y="1150.0" font-size="16.20" fill="#3a3a3a" font-family="'Liberation Sans',sans-serif" text-anchor="end">100</text>
<text x="1935.5" y="1181.0" font-size="16.20" fill="#3a3a3a" font-family="'Liberation Sans',sans-serif" text-anchor="end">80</text>
<text x="1935.5" y="1211.9" font-size="16.20" fill="#3a3a3a" font-family="'Liberation Sans',sans-serif" text-anchor="end">60</text>
<text x="1935.5" y="1242.8" font-size="16.20" fill="#3a3a3a" font-family="'Liberation Sans',sans-serif" text-anchor="end">40</text>
<text x="1935.5" y="1273.7" font-size="16.20" fill="#3a3a3a" font-family="'Liberation Sans',sans-serif" text-anchor="end">20</text>
<text x="1935.5" y="1304.6" font-size="16.20" fill="#3a3a3a" font-family="'Liberation Sans',sans-serif" text-anchor="end">0</text>
<text transform="translate(1954.6,1311.5) rotate(-90)" font-size="15.6" fill="#3a3a3a" font-family="'Liberation Sans',sans-serif" text-anchor="end" textLength="54" lengthAdjust="spacingAndGlyphs">Sep-11</text>
<text transform="translate(1983.3,1311.5) rotate(-90)" font-size="15.6" fill="#3a3a3a" font-family="'Liberation Sans',sans-serif" text-anchor="end" textLength="54" lengthAdjust="spacingAndGlyphs">Mar-12</text>
<text transform="translate(2012.1,1311.5) rotate(-90)" font-size="15.6" fill="#3a3a3a" font-family="'Liberation Sans',sans-serif" text-anchor="end" textLength="54" lengthAdjust="spacingAndGlyphs">Sep-12</text>
<text transform="translate(2040.8,1311.5) rotate(-90)" font-size="15.6" fill="#3a3a3a" font-family="'Liberation Sans',sans-serif" text-anchor="end" textLength="54" lengthAdjust="spacingAndGlyphs">Mar-13</text>
<text transform="translate(2069.6,1311.5) rotate(-90)" font-size="15.6" fill="#3a3a3a" font-family="'Liberation Sans',sans-serif" text-anchor="end" textLength="54" lengthAdjust="spacingAndGlyphs">Sep-13</text>
<text transform="translate(2098.3,1311.5) rotate(-90)" font-size="15.6" fill="#3a3a3a" font-family="'Liberation Sans',sans-serif" text-anchor="end" textLength="54" lengthAdjust="spacingAndGlyphs">Mar-14</text>
<text transform="translate(2127.0,1311.5) rotate(-90)" font-size="15.6" fill="#3a3a3a" font-family="'Liberation Sans',sans-serif" text-anchor="end" textLength="54" lengthAdjust="spacingAndGlyphs">Sep-14</text>
<text transform="translate(2155.8,1311.5) rotate(-90)" font-size="15.6" fill="#3a3a3a" font-family="'Liberation Sans',sans-serif" text-anchor="end" textLength="54" lengthAdjust="spacingAndGlyphs">Mar-15</text>
<text transform="translate(2184.5,1311.5) rotate(-90)" font-size="15.6" fill="#3a3a3a" font-family="'Liberation Sans',sans-serif" text-anchor="end" textLength="54" lengthAdjust="spacingAndGlyphs">Sep-15</text>
<text transform="translate(2213.3,1311.5) rotate(-90)" font-size="15.6" fill="#3a3a3a" font-family="'Liberation Sans',sans-serif" text-anchor="end" textLength="54" lengthAdjust="spacingAndGlyphs">Mar-16</text>
<text transform="translate(2242.0,1311.5) rotate(-90)" font-size="15.6" fill="#3a3a3a" font-family="'Liberation Sans',sans-serif" text-anchor="end" textLength="54" lengthAdjust="spacingAndGlyphs">Sep-16</text>
<text transform="translate(2270.7,1311.5) rotate(-90)" font-size="15.6" fill="#3a3a3a" font-family="'Liberation Sans',sans-serif" text-anchor="end" textLength="54" lengthAdjust="spacingAndGlyphs">Mar-17</text>
<text transform="translate(2299.5,1311.5) rotate(-90)" font-size="15.6" fill="#3a3a3a" font-family="'Liberation Sans',sans-serif" text-anchor="end" textLength="54" lengthAdjust="spacingAndGlyphs">Sep-17</text>
<text transform="translate(2328.2,1311.5) rotate(-90)" font-size="15.6" fill="#3a3a3a" font-family="'Liberation Sans',sans-serif" text-anchor="end" textLength="54" lengthAdjust="spacingAndGlyphs">Mar-18</text>
<text transform="translate(2357.0,1311.5) rotate(-90)" font-size="15.6" fill="#3a3a3a" font-family="'Liberation Sans',sans-serif" text-anchor="end" textLength="54" lengthAdjust="spacingAndGlyphs">Sep-18</text>
<text transform="translate(2385.7,1311.5) rotate(-90)" font-size="15.6" fill="#3a3a3a" font-family="'Liberation Sans',sans-serif" text-anchor="end" textLength="54" lengthAdjust="spacingAndGlyphs">Mar-19</text>
<text transform="translate(2414.4,1311.5) rotate(-90)" font-size="15.6" fill="#3a3a3a" font-family="'Liberation Sans',sans-serif" text-anchor="end" textLength="54" lengthAdjust="spacingAndGlyphs">Sep-19</text>
<text transform="translate(2443.2,1311.5) rotate(-90)" font-size="15.6" fill="#3a3a3a" font-family="'Liberation Sans',sans-serif" text-anchor="end" textLength="54" lengthAdjust="spacingAndGlyphs">Mar-20</text>
<text transform="translate(2471.9,1311.5) rotate(-90)" font-size="15.6" fill="#3a3a3a" font-family="'Liberation Sans',sans-serif" text-anchor="end" textLength="54" lengthAdjust="spacingAndGlyphs">Sep-20</text>
<text transform="translate(2500.7,1311.5) rotate(-90)" font-size="15.6" fill="#3a3a3a" font-family="'Liberation Sans',sans-serif" text-anchor="end" textLength="54" lengthAdjust="spacingAndGlyphs">Mar-21</text>
<text transform="translate(2529.4,1311.5) rotate(-90)" font-size="15.6" fill="#3a3a3a" font-family="'Liberation Sans',sans-serif" text-anchor="end" textLength="54" lengthAdjust="spacingAndGlyphs">Sep-21</text>
<text transform="translate(2558.1,1311.5) rotate(-90)" font-size="15.6" fill="#3a3a3a" font-family="'Liberation Sans',sans-serif" text-anchor="end" textLength="54" lengthAdjust="spacingAndGlyphs">Mar-22</text>
<rect x="2129.4" y="1387" width="9.4" height="9.4" fill="#aed4f0"/>
<rect x="2227.3" y="1387" width="9.4" height="9.4" fill="#2f486c"/>
<text x="2142.5" y="1398.0" font-size="15.60" fill="#3a3a3a" font-family="'Liberation Sans',sans-serif" textLength="64.5" lengthAdjust="spacingAndGlyphs">Onshore</text>
<text x="2240.5" y="1398.0" font-size="15.60" fill="#3a3a3a" font-family="'Liberation Sans',sans-serif" textLength="96.0" lengthAdjust="spacingAndGlyphs">Floating Stor</text>
</g>
<g font-family="'Liberation Sans','Noto Sans CJK SC',sans-serif" font-weight="bold" fill="#000">
<text x="2266.0" y="1445.0" font-size="65.00" font-family="'Liberation Sans','Noto Sans CJK SC',sans-serif" font-weight="bold" textLength="131.0" lengthAdjust="spacingAndGlyphs">头条</text>
<text x="2418.5" y="1449.5" font-size="74" textLength="68" lengthAdjust="spacingAndGlyphs">@</text>
<text x="2490.5" y="1445.0" font-size="65.00" font-family="'Liberation Sans','Noto Sans CJK SC',sans-serif" font-weight="bold" textLength="131.0" lengthAdjust="spacingAndGlyphs">认是</text>
</g>
<g font-family="'Liberation Sans','Noto Sans CJK SC',sans-serif" font-weight="bold" fill="#fff">
<text x="2271.0" y="1440.0" font-size="65.00" font-family="'Liberation Sans','Noto Sans CJK SC',sans-serif" font-weight="bold" textLength="131.0" lengthAdjust="spacingAndGlyphs">头条</text>
<text x="2423.5" y="1444.5" font-size="74" textLength="68" lengthAdjust="spacingAndGlyphs">@</text>
<text x="2495.5" y="1440.0" font-size="65.00" font-family="'Liberation Sans','Noto Sans CJK SC',sans-serif" font-weight="bold" textLength="131.0" lengthAdjust="spacingAndGlyphs">认是</text>
</g>
</svg></div></body></html>
